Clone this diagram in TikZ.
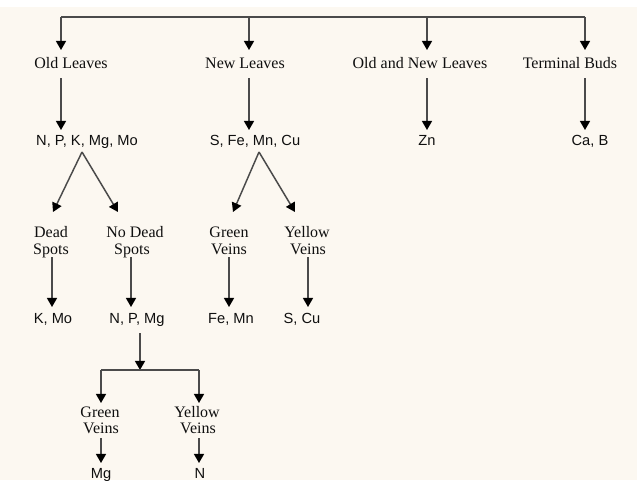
\documentclass[tikz,border=0pt]{standalone}
\usepackage{fontspec}
\setmainfont{Liberation Serif}
\newfontfamily\lsans{Liberation Sans}
\usetikzlibrary{arrows.meta}
\definecolor{bgcream}{RGB}{252,248,241}
\definecolor{linegrey}{RGB}{75,75,75}
\definecolor{inkc}{RGB}{15,15,15}
\begin{document}
\begin{tikzpicture}[x=0.75pt,y=-0.75pt,
  lab/.style={font=\fontsize{12}{13}\selectfont, anchor=base, inner sep=0pt, text=inkc},
  elem/.style={font=\lsans\fontsize{11}{13}\selectfont, anchor=base, inner sep=0pt, text=inkc},
  conn/.style={draw=linegrey, line width=1.1pt},
  arr/.style={conn, -{Triangle[width=7.5pt,length=6.8pt,black]}}]
\useasboundingbox (0,0) rectangle (637,480);
\fill[bgcream] (0,0) rectangle (637,480);
\fill[white] (0,0) rectangle (637,7);

% ---- labels ----
\node[lab] (ol)  at (71,68)  {Old Leaves};
\node[lab] (nl)  at (245,68) {New Leaves};
\node[lab] (onl) at (420,68) {Old and New Leaves};
\node[lab] (tb)  at (570,68) {Terminal Buds};

\node[elem] (npk) at (87,145)  {N, P, K, Mg, Mo};
\node[elem] (sfe) at (255,145) {S, Fe, Mn, Cu};
\node[elem] (zn)  at (427,145) {Zn};
\node[elem] (cab) at (590,145) {Ca, B};

\node[lab] (ds1)  at (51,237)  {Dead};
\node[lab] (ds2)  at (51,254)  {Spots};
\node[lab] (nds1) at (135,237) {No Dead};
\node[lab] (nds2) at (132,254) {Spots};
\node[lab] (gv1)  at (229,237) {Green};
\node[lab] (gv2)  at (229,254) {Veins};
\node[lab] (yv1)  at (307,237) {Yellow};
\node[lab] (yv2)  at (308,254) {Veins};

\node[elem] (kmo) at (53,323)  {K, Mo};
\node[elem] (npm) at (137,323) {N, P, Mg};
\node[elem] (fmn) at (231,323) {Fe, Mn};
\node[elem] (scu) at (302,323) {S, Cu};

\node[lab] (bg1) at (100,417) {Green};
\node[lab] (bg2) at (101,433) {Veins};
\node[lab] (by1) at (197,417) {Yellow};
\node[lab] (by2) at (198,433) {Veins};

\node[elem] (mg) at (101,478) {Mg};
\node[elem] (nn) at (200,478) {N};

% ---- connector points ----
\coordinate (t1) at (61,17);  \coordinate (t2) at (249,17);
\coordinate (t3) at (427,17); \coordinate (t4) at (585,17);
\coordinate (a1) at (82,152); \coordinate (a2) at (259,152);
\coordinate (b0) at (140,370);
\coordinate (bl) at (101,370); \coordinate (br) at (199,370);

% top bar
\draw[conn] (t1) -- (t4);
\draw[arr] (t1) -- ++(0,33);
\draw[arr] (t2) -- ++(0,33);
\draw[arr] (t3) -- ++(0,33);
\draw[arr] (t4) -- ++(0,33);

% row 1 -> row 2
\draw[arr] (61,78)  -- (61,130);
\draw[arr] (249,78) -- (249,130);
\draw[arr] (427,78) -- (427,130);
\draw[arr] (585,78) -- (585,130);

% diagonals
\draw[arr] (a1) -- (53,212);
\draw[arr] (a1) -- (118,212);
\draw[arr] (a2) -- (233,212);
\draw[arr] (a2) -- (295,212);

% row 3 -> row 4
\draw[arr] (52,257)  -- (52,307);
\draw[arr] (131,257) -- (131,307);
\draw[arr] (229,257) -- (229,307);
\draw[arr] (308,257) -- (308,307);

% N, P, Mg split
\draw[arr] (140,333) -- (b0);
\draw[conn] (bl) -- (br);
\draw[arr] (bl) -- (101,403);
\draw[arr] (br) -- (199,403);

% bottom
\draw[arr] (101,438) -- (101,463);
\draw[arr] (199,438) -- (199,463);
\end{tikzpicture}
\end{document}
